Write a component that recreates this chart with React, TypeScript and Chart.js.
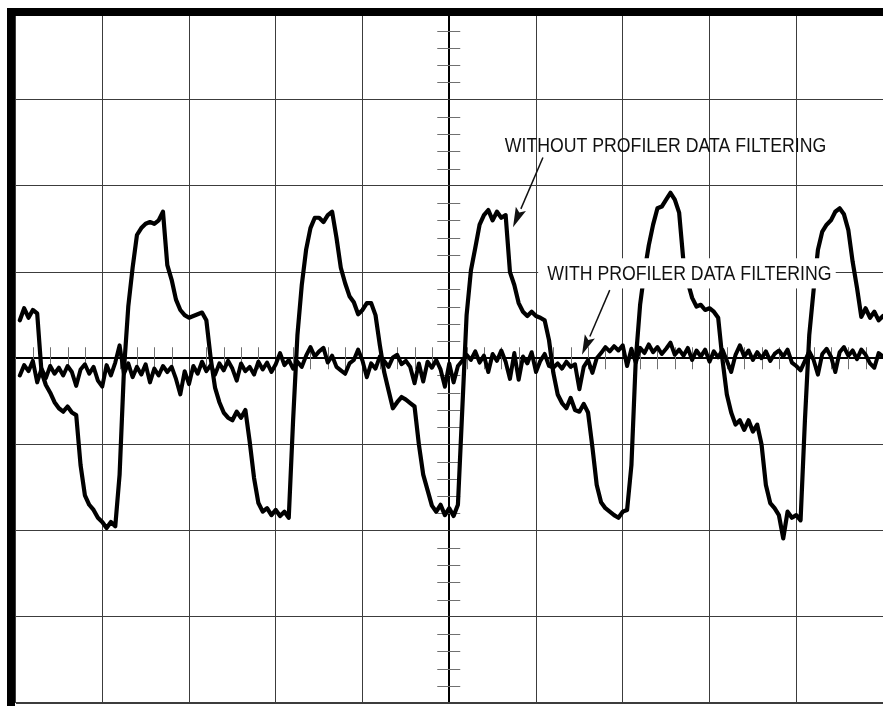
import { useEffect, useRef } from "react";
import { Chart, registerables } from "chart.js";

Chart.register(...registerables);

// time base: 200 samples, 0.5 units apart (10 units per division)
const SAMPLE_STEP = 0.5;
const SAMPLE_COUNT = 200;
const TIME = Array.from({ length: SAMPLE_COUNT }, (_, i) => (i + 1) * SAMPLE_STEP);

// axis ranges (10 units per division)
const X_MIN = 0;
const X_MAX = 100;
const Y_MIN = -40;
const Y_MAX = 40;
const DIVISION = 10;
const MINOR_STEP = 2;
const X_CENTER = 50;
const Y_CENTER = 0;

const WITHOUT_FILTERING = [
  4.4, 5.8, 4.7, 5.6, 5.2, -1.6, -3.1, -4.0, -5.1, -5.8, -6.2, -5.6, -6.3, -6.6, -12.4, -15.9, -17.0, -17.6, -18.5, -19.0,
  -19.7, -19.0, -19.5, -13.5, -1.4, 6.0, 10.5, 14.3, 15.1, 15.6, 15.8, 15.6, 16.0, 17.0, 10.8, 9.1, 6.8, 5.6, 5.0, 4.7,
  4.9, 5.1, 5.3, 4.4, 0.0, -3.4, -5.1, -6.3, -6.9, -7.2, -6.2, -6.9, -6.0, -9.7, -13.9, -16.8, -17.8, -17.4, -18.2, -17.6,
  -18.3, -17.8, -18.5, -7.2, 2.7, 8.5, 12.6, 15.1, 16.3, 16.3, 15.8, 16.6, 17.0, 14.0, 10.5, 8.7, 7.2, 6.5, 5.1, 5.6,
  6.4, 6.4, 5.0, 1.5, -1.6, -3.7, -5.8, -5.1, -4.5, -4.8, -5.2, -5.6, -10.0, -13.5, -15.3, -17.1, -17.8, -17.0, -18.2, -17.4,
  -18.3, -17.0, -6.0, 5.0, 10.2, 12.8, 15.5, 16.6, 17.2, 16.0, 17.0, 16.3, 16.6, 10.0, 8.5, 6.4, 5.4, 4.9, 5.4, 4.9,
  4.7, 4.4, 2.1, -1.7, -4.2, -5.2, -5.8, -4.6, -6.0, -6.2, -5.3, -6.3, -10.3, -14.7, -16.7, -17.4, -17.8, -18.2, -18.5, -17.8,
  -17.6, -12.4, -0.2, 6.2, 10.0, 13.1, 15.5, 17.4, 17.6, 18.4, 19.2, 18.4, 16.9, 11.2, 8.8, 7.0, 6.0, 6.2, 5.6, 5.8,
  5.4, 4.7, -0.2, -4.2, -6.3, -7.7, -7.2, -8.3, -7.2, -8.5, -7.7, -10.0, -14.7, -16.8, -17.4, -18.2, -20.9, -17.8, -18.5, -18.2,
  -18.8, -7.2, 2.7, 7.9, 12.6, 14.7, 15.5, 16.0, 17.0, 17.4, 16.7, 14.9, 11.2, 8.2, 4.8, 5.8, 4.7, 5.4, 4.4, 4.9,
];

const WITH_FILTERING = [
  -2.0, -0.8, -1.5, -0.3, -2.8, -1.2, -2.3, -0.9, -1.8, -1.1, -2.0, -0.9, -1.6, -3.2, -1.3, -0.7, -1.8, -1.0, -2.6, -3.3,
  -0.8, -2.0, -0.5, 1.5, -1.8, -0.6, -2.2, -1.0, -1.9, -0.7, -2.8, -1.2, -2.0, -0.9, -1.6, -1.0, -2.4, -4.2, -1.5, -3.0,
  -0.9, -1.8, -0.4, -1.5, -0.8, -1.9, -0.6, -1.4, -0.3, -1.2, -2.6, -0.6, -1.5, -1.0, -1.9, -0.4, -1.3, -0.5, -1.6, -0.7,
  0.6, -0.8, -0.2, -1.2, -0.4, -1.0, 0.3, 1.3, 0.2, 0.8, 1.2, -0.5, 0.3, -1.0, -1.4, -1.8, -0.6, -0.2, 1.0, -0.3,
  -2.2, -0.6, -1.2, 0.2, -0.3, -1.0, 0.1, 0.4, -0.7, -0.3, -1.0, -2.9, -0.6, -2.7, -0.4, -1.1, -0.2, -1.3, -3.3, -0.6,
  -2.8, -0.9, -0.3, 0.4, -0.2, 0.8, -0.5, 0.3, -1.6, 0.5, -0.3, 0.9, -0.4, -2.4, 0.6, -2.5, 0.2, -0.6, 0.7, -1.6,
  -0.3, 0.5, -0.9, -1.1, -0.6, -1.2, -0.4, -1.0, -0.7, -3.6, -1.0, -0.2, -1.7, 0.0, 0.6, 1.3, 0.8, 1.4, 0.9, 1.5,
  -0.9, 1.1, -0.5, 1.2, 0.6, 1.6, 0.7, 1.3, 0.5, 1.1, 1.8, 0.4, 1.0, 0.3, 1.2, -0.2, 0.9, 0.2, 1.0, -0.4,
  0.8, 0.1, 1.0, -0.3, -1.6, 0.4, 1.5, 0.2, 0.9, -0.2, 0.7, 0.0, 0.8, -0.3, 0.5, 0.9, 0.2, 1.0, -0.5, -0.9,
  -1.4, -0.3, 0.8, -0.2, -1.9, 0.5, 1.1, 0.2, -1.6, 0.7, 1.3, 0.3, 0.9, -0.1, 1.0, 0.4, -0.6, -1.1, 0.6, 0.2,
];

// annotation texts, anchored in data units
const LABEL_TEXTS = ["WITHOUT PROFILER DATA FILTERING", "WITH PROFILER DATA FILTERING"];
const LABEL_X = [56.4, 61.3];
const LABEL_Y = [23.9, 9.1];
// white box behind the second label: [x0, x1, yTop, yBottom]
const LABEL_BOXES = [null, [60.25, 94.55, 11.6, 8.1]] as (number[] | null)[];
// leader arrows [fromX, fromY, toX, toY]
const ARROWS = [
  [60.8, 23.3, 57.35, 15.2],
  [68.5, 7.9, 65.3, 0.4],
];

const scopePlugin = {
  id: "scopeDecor",
  beforeDatasetsDraw(chart: any) {
    const { ctx } = chart;
    const xs = chart.scales.x;
    const ys = chart.scales.y;
    const cx = xs.getPixelForValue(X_CENTER);
    const cy = ys.getPixelForValue(Y_CENTER);
    ctx.save();
    ctx.strokeStyle = "#707070";
    ctx.lineWidth = 1;
    for (let v = Y_MIN + MINOR_STEP; v < Y_MAX; v += MINOR_STEP) {
      if (v % DIVISION === 0) continue;
      const py = Math.round(ys.getPixelForValue(v)) + 0.5;
      ctx.beginPath();
      ctx.moveTo(cx - 12, py);
      ctx.lineTo(cx + 11, py);
      ctx.stroke();
    }
    for (let v = X_MIN + MINOR_STEP; v < X_MAX; v += MINOR_STEP) {
      if (v % DIVISION === 0) continue;
      const px = Math.round(xs.getPixelForValue(v)) + 0.5;
      ctx.beginPath();
      ctx.moveTo(px, cy - 11);
      ctx.lineTo(px, cy + 11);
      ctx.stroke();
    }
    ctx.restore();
  },
  afterDatasetsDraw(chart: any) {
    const { ctx, chartArea } = chart;
    const xs = chart.scales.x;
    const ys = chart.scales.y;
    ctx.save();
    // label boxes and texts
    LABEL_TEXTS.forEach((text, i) => {
      const box = LABEL_BOXES[i];
      if (box) {
        const x0 = xs.getPixelForValue(box[0]);
        const x1 = xs.getPixelForValue(box[1]);
        const y0 = ys.getPixelForValue(box[2]);
        const y1 = ys.getPixelForValue(box[3]);
        ctx.fillStyle = "#ffffff";
        ctx.fillRect(x0, y0, x1 - x0, y1 - y0);
      }
      const px = xs.getPixelForValue(LABEL_X[i]);
      const py = ys.getPixelForValue(LABEL_Y[i]);
      ctx.save();
      ctx.translate(px, py);
      ctx.scale(0.885, 1);
      ctx.font = '20px "Liberation Sans", Arial, Helvetica, sans-serif';
      ctx.fillStyle = "#111";
      ctx.textBaseline = "alphabetic";
      ctx.textAlign = "left";
      ctx.fillText(text, 0, 0);
      ctx.restore();
    });
    // arrows
    ctx.strokeStyle = "#111";
    ctx.fillStyle = "#111";
    ARROWS.forEach(([fx, fy, tx, ty]) => {
      const x1 = xs.getPixelForValue(fx);
      const y1 = ys.getPixelForValue(fy);
      const x2 = xs.getPixelForValue(tx);
      const y2 = ys.getPixelForValue(ty);
      const ang = Math.atan2(y2 - y1, x2 - x1);
      const head = 20;
      const half = 5.5;
      const bx = x2 - head * Math.cos(ang);
      const by = y2 - head * Math.sin(ang);
      ctx.lineWidth = 1.5;
      ctx.beginPath();
      ctx.moveTo(x1, y1);
      ctx.lineTo(bx, by);
      ctx.stroke();
      ctx.beginPath();
      ctx.moveTo(x2, y2);
      ctx.lineTo(bx + half * Math.sin(ang), by - half * Math.cos(ang));
      ctx.lineTo(x2 - head * 0.8 * Math.cos(ang), y2 - head * 0.8 * Math.sin(ang));
      ctx.lineTo(bx - half * Math.sin(ang), by + half * Math.cos(ang));
      ctx.closePath();
      ctx.fill();
    });
    // heavy frame on the left and top
    ctx.fillStyle = "#000";
    const left = chartArea.left;
    const top = chartArea.top;
    ctx.fillRect(left - 8.5, top - 5.5, 8, chart.height - (top - 5.5));
    ctx.fillRect(left - 8.5, top - 5.5, chart.width - (left - 8.5), 8);
    ctx.restore();
  },
};

export default function App() {
  const canvasRef = useRef<HTMLCanvasElement | null>(null);

  useEffect(() => {
    if (!canvasRef.current) return;
    const gridColor = (center: number, edgeMax: number) => (c: any) => {
      const v = c.tick?.value;
      if (v === center) return "#000000";
      if (v === edgeMax) return "rgba(0,0,0,0)";
      return "#3c3c3c";
    };
    const gridWidth = (center: number, thickEdge: number | null) => (c: any) => {
      const v = c.tick?.value;
      if (v === center) return 2;
      if (thickEdge !== null && v === thickEdge) return 2;
      return 1;
    };
    const chart = new Chart(canvasRef.current, {
      type: "line",
      data: {
        datasets: [
          {
            label: "Without profiler data filtering",
            data: WITHOUT_FILTERING.map((v, i) => ({ x: TIME[i], y: v })),
            borderColor: "#000",
            borderWidth: 4.2,
            pointRadius: 0,
            tension: 0,
            borderJoinStyle: "round",
            borderCapStyle: "round",
            fill: false,
          },
          {
            label: "With profiler data filtering",
            data: WITH_FILTERING.map((v, i) => ({ x: TIME[i], y: v })),
            borderColor: "#000",
            borderWidth: 4,
            pointRadius: 0,
            tension: 0,
            borderJoinStyle: "round",
            borderCapStyle: "round",
            fill: false,
          },
        ],
      },
      options: {
        responsive: false,
        animation: false,
        devicePixelRatio: 1,
        layout: { padding: { left: 15.5, top: 13.5, right: 0, bottom: 3 } },
        plugins: {
          legend: { display: false },
          tooltip: { enabled: false },
          title: { display: false },
        },
        events: [],
        scales: {
          x: {
            type: "linear",
            min: X_MIN,
            max: X_MAX,
            ticks: { display: false, stepSize: DIVISION },
            grid: {
              drawTicks: false,
              color: gridColor(X_CENTER, X_MAX),
              lineWidth: gridWidth(X_CENTER, null),
            },
            border: { display: false },
          },
          y: {
            type: "linear",
            min: Y_MIN,
            max: Y_MAX,
            ticks: { display: false, stepSize: DIVISION },
            grid: {
              drawTicks: false,
              color: gridColor(Y_CENTER, Y_MAX),
              lineWidth: gridWidth(Y_CENTER, Y_MIN),
            },
            border: { display: false },
          },
        },
      },
      plugins: [scopePlugin],
    } as any);
    return () => chart.destroy();
  }, []);

  return (
    <div style={{ position: "fixed", left: 0, top: 0, width: 883, height: 706, background: "#fff" }}>
      <canvas ref={canvasRef} width={883} height={706} style={{ width: 883, height: 706, display: "block" }} />
    </div>
  );
}
